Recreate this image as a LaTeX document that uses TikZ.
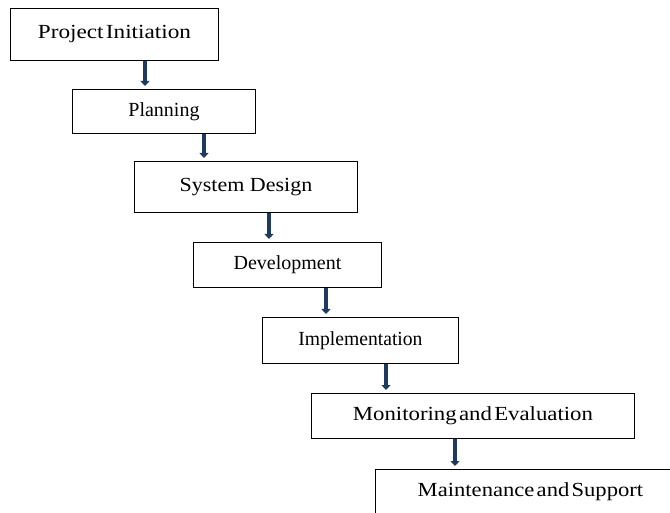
\documentclass[tikz,border=0pt]{standalone}
\usepackage{fontspec}
\usepackage{graphicx}
\setmainfont{Liberation Serif}
\usetikzlibrary{arrows.meta}
\definecolor{navy}{HTML}{1F3A5F}
\newcommand{\wide}[2]{\scalebox{#1}[1]{#2}}
\begin{document}
\begin{tikzpicture}[x=1pt,y=-1pt,
  stage/.style={draw=black,line width=0.9pt,fill=white,anchor=north west,
    inner sep=0pt,font=\fontsize{20}{24}\selectfont},
  flow/.style={draw=navy,line width=4.5pt,
    -{Triangle[width=9pt,length=5pt]},shorten >=3pt}]
\useasboundingbox (0,0) rectangle (670,513);
\fill[white] (0,0) rectangle (670,513);
\node[stage,minimum width=208pt,minimum height=52pt] (b1) at (10,8) {\wide{1.16}{Project\hspace{2pt}Initiation}};
\node[stage,minimum width=183pt,minimum height=44pt] (b2) at (72,89) {Planning};
\node[stage,minimum width=223pt,minimum height=51pt] (b3) at (134,161) {\wide{1.1}{System Design}};
\node[stage,minimum width=188pt,minimum height=45pt] (b4) at (193,242) {Development};
\node[stage,minimum width=196pt,minimum height=46pt] (b5) at (262,317) {\wide{0.98}{Implementation}};
\node[stage,minimum width=323pt,minimum height=45pt] (b6) at (311,393) {\wide{1.14}{Monitoring\hspace{2pt}and\hspace{2pt}Evaluation}};
\node[stage,minimum width=310pt,minimum height=44pt] (b7) at (375,469) {\wide{1.13}{Maintenance\hspace{2pt}and\hspace{2pt}Support}};
\draw[flow] ([xshift=135pt]b1.south west) -- ([xshift=135pt]b1.south west |- b2.north);
\draw[flow] ([xshift=132pt]b2.south west) -- ([xshift=132pt]b2.south west |- b3.north);
\draw[flow] ([xshift=135pt]b3.south west) -- ([xshift=135pt]b3.south west |- b4.north);
\draw[flow] ([xshift=133pt]b4.south west) -- ([xshift=133pt]b4.south west |- b5.north);
\draw[flow] ([xshift=124pt]b5.south west) -- ([xshift=124pt]b5.south west |- b6.north);
\draw[flow] ([xshift=144pt]b6.south west) -- ([xshift=144pt]b6.south west |- b7.north);
\end{tikzpicture}
\end{document}
